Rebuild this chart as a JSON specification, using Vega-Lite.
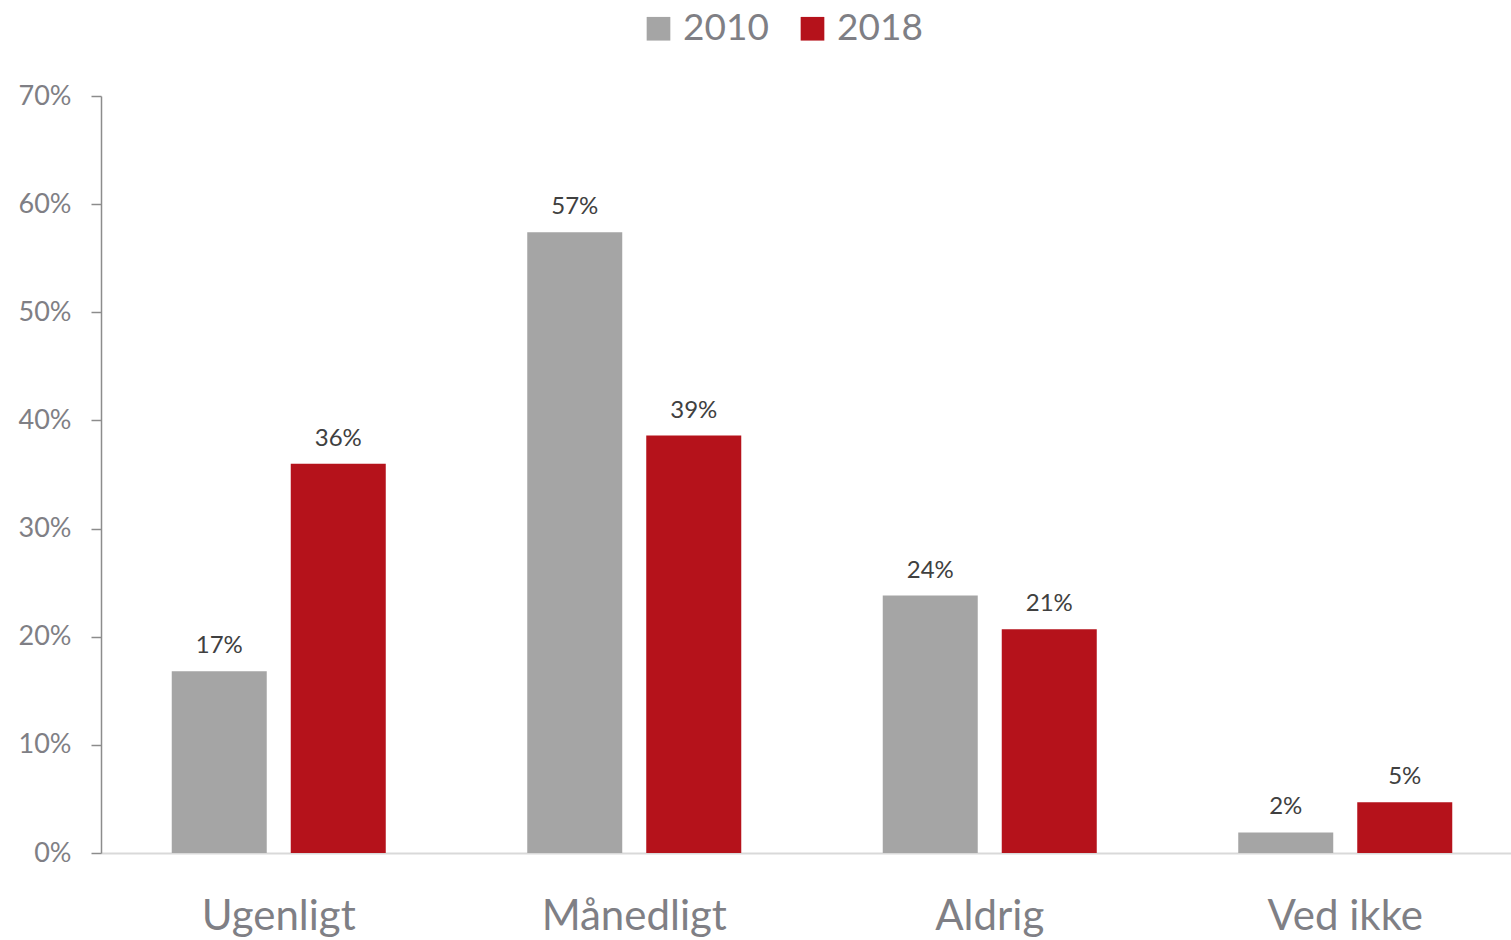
{
  "$schema": "https://vega.github.io/schema/vega-lite/v6.json",
  "width": 1410,
  "height": 757,
  "autosize": {"type": "none"},
  "padding": {"left": 101, "top": 96, "right": 0, "bottom": 87},
  "background": "white",
  "config": {"view": {"stroke": null}, "font": "Lato"},
  "data": {
    "values": [
      {"cat": "Ugenligt", "year": "2010", "value": 0.168},
      {"cat": "Ugenligt", "year": "2018", "value": 0.36},
      {"cat": "Månedligt", "year": "2010", "value": 0.574},
      {"cat": "Månedligt", "year": "2018", "value": 0.386},
      {"cat": "Aldrig", "year": "2010", "value": 0.238},
      {"cat": "Aldrig", "year": "2018", "value": 0.207},
      {"cat": "Ved ikke", "year": "2010", "value": 0.019},
      {"cat": "Ved ikke", "year": "2018", "value": 0.047}
    ]
  },
  "encoding": {
    "x": {
      "field": "cat",
      "type": "nominal",
      "sort": ["Ugenligt", "Månedligt", "Aldrig", "Ved ikke"],
      "scale": {"range": [0, 1422], "paddingInner": 0.398, "paddingOuter": 0.199},
      "title": null,
      "axis": {
        "domainColor": "#d9d9d9",
        "domainWidth": 2,
        "ticks": false,
        "labelAngle": 0,
        "labelFontSize": 42,
        "labelColor": "#7f7f85",
        "labelPadding": 43,
        "labelLimit": 400,
        "labelFont": "Lato"
      }
    },
    "xOffset": {"field": "year", "type": "nominal", "scale": {"paddingInner": 0.2017, "paddingOuter": 0}},
    "y": {
      "field": "value",
      "type": "quantitative",
      "scale": {"domain": [0, 0.7]},
      "title": null,
      "axis": {
        "values": [0, 0.1, 0.2, 0.3, 0.4, 0.5, 0.6, 0.7],
        "format": ".0%",
        "grid": false,
        "domainColor": "#8c8c8c",
        "domainWidth": 1.5,
        "tickColor": "#8c8c8c",
        "tickWidth": 1.5,
        "tickSize": 10,
        "labelFontSize": 27,
        "labelColor": "#7f7f85",
        "labelPadding": 20,
        "labelFont": "Lato"
      }
    }
  },
  "layer": [
    {
      "mark": {"type": "bar"},
      "encoding": {
        "color": {
          "field": "year",
          "type": "nominal",
          "scale": {"domain": ["2010", "2018"], "range": ["#a5a5a5", "#b5121b"]},
          "legend": {
            "title": null,
            "orient": "none",
            "direction": "horizontal",
            "legendX": 539,
            "legendY": -86,
            "symbolType": "square",
            "symbolSize": 560,
            "symbolStrokeWidth": 0,
            "labelFontSize": 37,
            "labelColor": "#7f7f85",
            "labelOffset": 6,
            "columnPadding": 25,
            "labelFont": "Lato"
          }
        }
      }
    },
    {
      "mark": {"type": "text", "dy": -18, "baseline": "alphabetic", "fontSize": 24, "color": "#404040", "font": "Lato"},
      "encoding": {"text": {"field": "value", "type": "quantitative", "format": ".0%"}}
    }
  ]
}
